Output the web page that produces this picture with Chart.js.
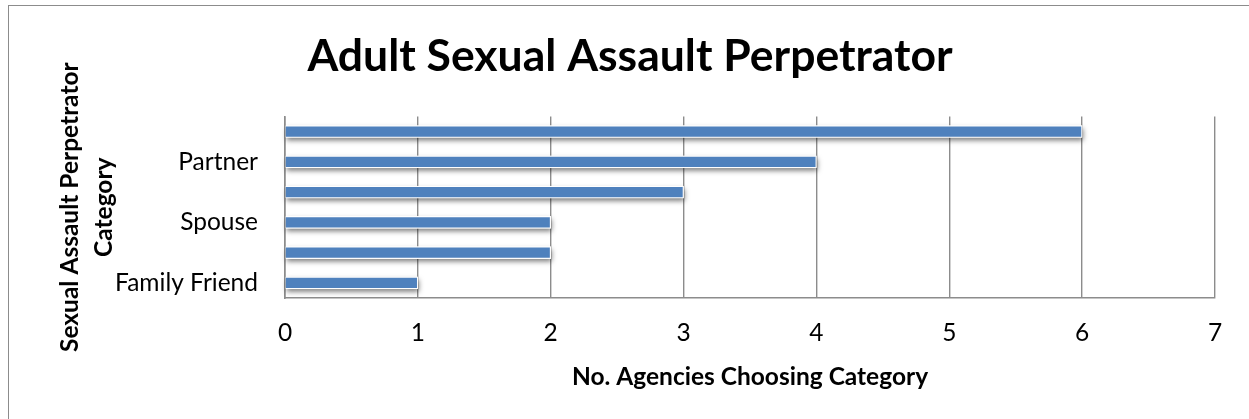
<!DOCTYPE html>
<html>
<head>
<meta charset="utf-8">
<script src="https://cdn.jsdelivr.net/npm/chart.js@4"></script>
<style>
  html, body { margin: 0; padding: 0; background: #fff; }
  body { width: 1249px; height: 419px; position: relative; overflow: hidden; }
  .frame { position: absolute; left: 8px; top: 5px; width: 1300px; height: 500px; border: 1.5px solid #8c8c8c; }
  #wrap { position: absolute; left: 0; top: 0; width: 1249px; height: 419px; }
</style>
</head>
<body>
<div class="frame"></div>
<div id="wrap"><canvas id="perpChart" width="1249" height="419"></canvas></div>
<script>
// categories top to bottom; only every other one has a printed name
const categories = ["", "Partner", "", "Spouse", "", "Family Friend"];
const agencyCounts = [6, 4, 3, 2, 2, 1];
const xTicks = [0, 1, 2, 3, 4, 5, 6, 7];

const chartTitle = "Adult Sexual Assault Perpetrator";
const xTitle = "No. Agencies Choosing Category";
const yTitle = ["Sexual Assault Perpetrator", "Category"];

const FONT = "Lato, 'Open Sans', sans-serif";
const BLUE = "#4F81BD";
const GRID = "#8c8c8c";

// soft drop shadow under each bar, drawn before the bars themselves
const barShadow = {
  id: "barShadow",
  beforeDatasetsDraw(chart) {
    const ctx = chart.ctx;
    ctx.save();
    ctx.shadowColor = "rgba(0,0,0,0.5)";
    ctx.shadowBlur = 5;
    ctx.shadowOffsetX = 1;
    ctx.shadowOffsetY = 3;
    ctx.fillStyle = "#fff";
    chart.getDatasetMeta(0).data.forEach(bar => {
      const { x, y, base, height } = bar.getProps(["x", "y", "base", "height"], true);
      ctx.fillRect(base, y - height / 2, x - base, height);
    });
    ctx.restore();
  }
};

new Chart(document.getElementById("perpChart"), {
  type: "bar",
  data: {
    labels: categories,
    datasets: [{
      data: agencyCounts,
      backgroundColor: BLUE,
      borderColor: "rgba(255,255,255,0.95)",
      borderWidth: 1.2,
      borderSkipped: "start",
      barThickness: 12,
    }]
  },
  plugins: [barShadow],
  options: {
    indexAxis: "y",
    responsive: false,
    animation: false,
    layout: { padding: { left: 45, right: 34, top: 0, bottom: 0 } },
    plugins: {
      legend: { display: false },
      tooltip: { enabled: false },
      title: {
        display: true,
        text: chartTitle,
        color: "#000",
        font: { family: FONT, size: 44.5, weight: "bold", lineHeight: 1.2 },
        padding: { top: 30, bottom: 33 },
      },
    },
    scales: {
      x: {
        min: xTicks[0],
        max: xTicks[xTicks.length - 1],
        afterBuildTicks: s => { s.ticks = xTicks.map(v => ({ value: v })); },
        afterFit: s => { s.height = 121; },
        ticks: { color: "#000", padding: 20, font: { family: FONT, size: 24.5 } },
        grid: { color: GRID, lineWidth: 1.4, drawTicks: false },
        border: { color: GRID, width: 1.6 },
        title: {
          display: true,
          text: xTitle,
          color: "#000",
          font: { family: FONT, size: 24.5, weight: "bold", lineHeight: 1.2 },
          padding: { top: 0, bottom: 27 },
        },
      },
      y: {
        afterFit: s => { s.width = 240; },
        ticks: { color: "#000", padding: 27, autoSkip: false, font: { family: FONT, size: 24.5 } },
        grid: { display: false, drawTicks: false },
        border: { display: true, color: GRID, width: 1.6 },
        title: {
          display: true,
          text: yTitle,
          color: "#000",
          font: { family: FONT, size: 24.5, weight: "bold", lineHeight: 1.4 },
          padding: { top: 8, bottom: 0 },
        },
      },
    },
  },
});
</script>
</body>
</html>
